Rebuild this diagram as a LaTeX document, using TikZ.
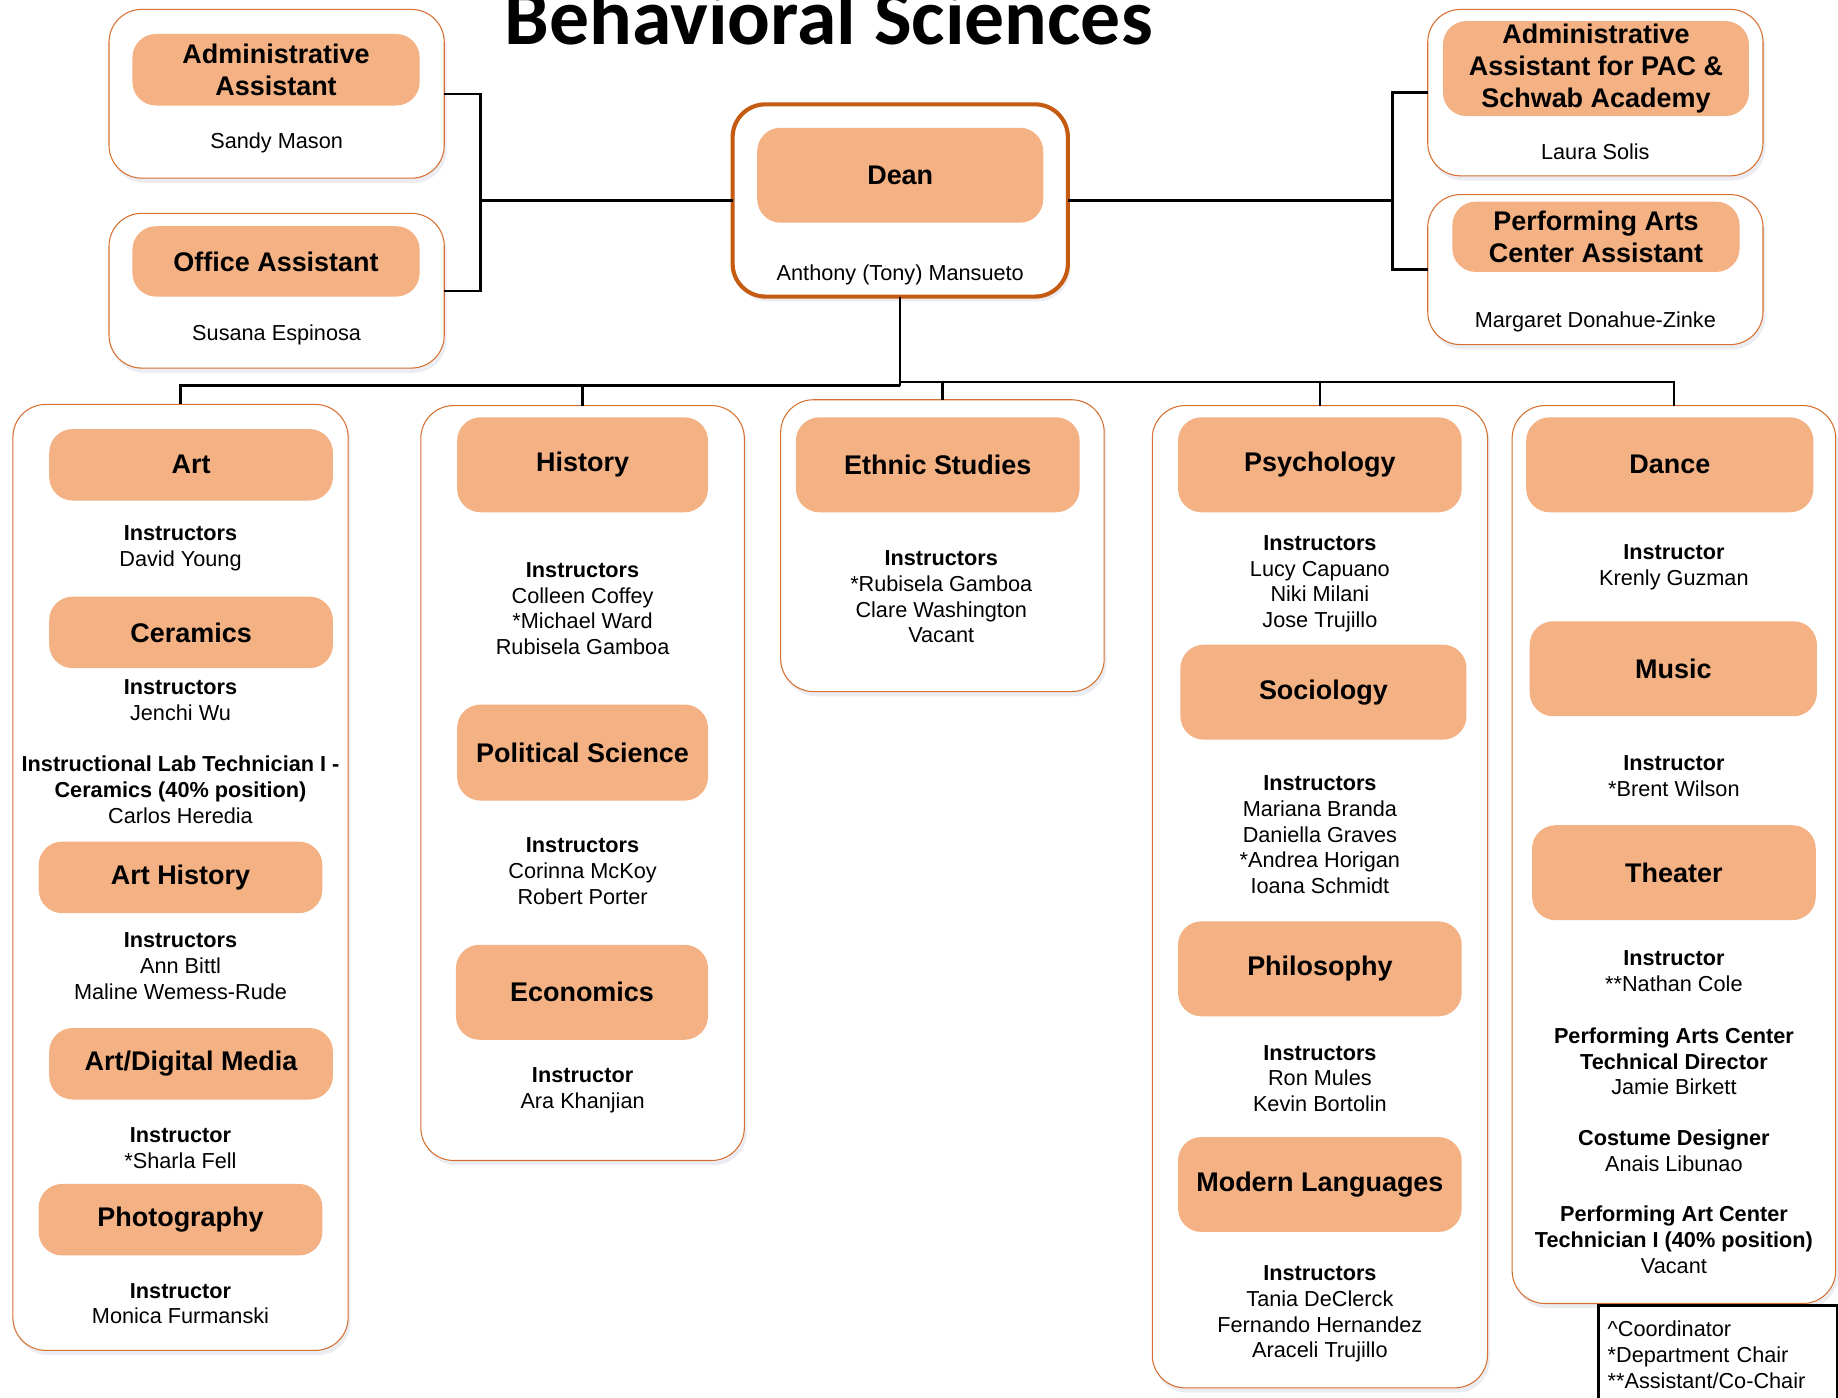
\documentclass[tikz,border=0pt]{standalone}
\usepackage{fontspec}
\setmainfont{Liberation Sans}
\newfontfamily\titlefont{Carlito}
\usetikzlibrary{shadows}
\definecolor{headfill}{RGB}{244,177,131}
\definecolor{edgeorange}{RGB}{214,112,48}
\definecolor{deanedge}{RGB}{197,90,17}
\newcommand{\bodyfont}{\fontsize{18.5}{22}\selectfont}
\newcommand{\headfont}{\fontsize{23}{27}\selectfont\bfseries}
\tikzset{
  unit/.style={draw=edgeorange, line width=0.9pt, fill=white, rounded corners=28pt,
    anchor=north west, inner sep=0pt, outer sep=0pt,
    drop shadow={shadow xshift=2pt, shadow yshift=-4pt, opacity=0.12, fill=blue!25!gray}},
  head/.style={fill=headfill, rounded corners=20pt, anchor=north west, inner sep=0pt,
    outer sep=0pt, font=\headfont, align=center},
  staff/.style={anchor=north, align=center, inner sep=0pt, font=\bodyfont, yshift=-4.5pt,
    execute at begin node=\strut},
  link/.style={line width=2pt}
}
\begin{document}
\begin{tikzpicture}[x=1pt,y=-1pt]%
\clip (0,0) rectangle (1568,1192);%
\useasboundingbox (0,0) rectangle (1568,1192);%
%
\node[anchor=base, font=\titlefont\fontsize{68}{80}\selectfont\bfseries] (title) at (707,38) {Behavioral Sciences};%
%
% top row
\node[unit, minimum width=286, minimum height=144] (adm) at (93,8) {};%
\node[unit, minimum width=286, minimum height=132] (off) at (93,182) {};%
\node[unit, draw=deanedge, line width=3.5pt, minimum width=286, minimum height=164] (dean) at (625,89) {};%
\node[unit, minimum width=286, minimum height=142] (pac) at (1218,8) {};%
\node[unit, minimum width=286, minimum height=128] (pacc) at (1218,166) {};%
%
\node[head, minimum width=245, minimum height=61] (adm-h) at (113,29) {Administrative\\Assistant};%
\node[head, minimum width=245, minimum height=60] (off-h) at (113,193) {Office Assistant};%
\node[head, minimum width=244, minimum height=81] (dean-h) at (646,109) {Dean};%
\node[head, minimum width=261, minimum height=81] (pac-h) at (1231,18) {Administrative\\Assistant for PAC \&\\Schwab Academy};%
\node[head, minimum width=245, minimum height=60] (pacc-h) at (1239,172) {Performing Arts\\Center Assistant};%
%
\node[staff] (adm-n) at (236,107) {Sandy Mason};%
\node[staff] (off-n) at (236,270) {Susana Espinosa};%
\node[staff] (dean-n) at (768,219) {Anthony (Tony) Mansueto};%
\node[staff] (pac-n) at (1361,116) {Laura Solis};%
\node[staff] (pacc-n) at (1361,259) {Margaret Donahue-Zinke};%
%
% departments
\def\artx{154}%
\def\histx{497}%
\def\ethx{803}%
\def\psyx{1126}%
\def\dancex{1428}%
\node[unit, minimum width=286, minimum height=807] (art) at (11,345) {};%
\node[unit, minimum width=276, minimum height=644] (hist) at (359,346) {};%
\node[unit, minimum width=276, minimum height=249] (eth) at (666,341) {};%
\node[unit, minimum width=286, minimum height=838] (psy) at (983,346) {};%
\node[unit, minimum width=276, minimum height=766] (dance) at (1290,346) {};%
%
% connectors
\coordinate (lbus) at (410,171);%
\coordinate (rbus) at (1188,171);%
\coordinate (lbr) at (768,329);%
\coordinate (rbr) at (768,326);%
\draw[link] (adm.east) -| (lbus) |- (off.east);%
\draw[link] (lbus) -- (dean.west);%
\draw[link] (pac.west) -| (rbus) |- (pacc.west);%
\draw[link] (rbus) -- (dean.east);%
\draw[link] (dean.south) -- (lbr);%
\draw[link] (lbr) -| (art.north);%
\draw[link] (lbr) -| (hist.north);%
\draw[link] (rbr) -| (eth.north);%
\draw[link] (rbr) -| (psy.north);%
\draw[link] (rbr) -| (dance.north);%
%
% Art
\node[head, minimum width=242, minimum height=61] (art-h) at (42,366) {Art};%
\node[head, minimum width=242, minimum height=61] (cer-h) at (42,509) {Ceramics};%
\node[head, minimum width=242, minimum height=61] (arth-h) at (33,718) {Art History};%
\node[head, minimum width=242, minimum height=61] (dig-h) at (42,877) {Art/Digital Media};%
\node[head, minimum width=242, minimum height=61] (pho-h) at (33,1010) {Photography};%
\node[staff] (art-s) at (\artx,444) {\textbf{Instructors}\\David Young};%
\node[staff] (cer-s) at (\artx,575) {\textbf{Instructors}\\Jenchi Wu};%
\node[staff] (cer-t) at (\artx,640) {\textbf{Instructional Lab Technician I -}\\\textbf{Ceramics (40\% position)}\\Carlos Heredia};%
\node[staff] (arth-s) at (\artx,791) {\textbf{Instructors}\\Ann Bittl\\Maline Wemess-Rude};%
\node[staff] (dig-s) at (\artx,957) {\textbf{Instructor}\\{}*Sharla Fell};%
\node[staff] (pho-s) at (\artx,1090) {\textbf{Instructor}\\Monica Furmanski};%
%
% History
\node[head, minimum width=214, minimum height=81] (hist-h) at (390,356) {History};%
\node[head, minimum width=214, minimum height=82] (pol-h) at (390,601) {Political Science};%
\node[head, minimum width=215, minimum height=81] (eco-h) at (389,806) {Economics};%
\node[staff] (hist-s) at (\histx,475) {\textbf{Instructors}\\Colleen Coffey\\{}*Michael Ward\\Rubisela Gamboa};%
\node[staff] (pol-s) at (\histx,710) {\textbf{Instructors}\\Corinna McKoy\\Robert Porter};%
\node[staff] (eco-s) at (\histx,906) {\textbf{Instructor}\\Ara Khanjian};%
%
% Ethnic Studies
\node[head, minimum width=242, minimum height=81] (eth-h) at (679,356) {Ethnic Studies};%
\node[staff] (eth-s) at (\ethx,465) {\textbf{Instructors}\\{}*Rubisela Gamboa\\Clare Washington\\Vacant};%
%
% Psychology
\node[head, minimum width=242, minimum height=81] (psy-h) at (1005,356) {Psychology};%
\node[head, minimum width=244, minimum height=81] (soc-h) at (1007,550) {Sociology};%
\node[head, minimum width=242, minimum height=81] (phi-h) at (1005,786) {Philosophy};%
\node[head, minimum width=242, minimum height=81] (lang-h) at (1005,970) {Modern Languages};%
\node[staff] (psy-s) at (\psyx,452) {\textbf{Instructors}\\Lucy Capuano\\Niki Milani\\Jose Trujillo};%
\node[staff] (soc-s) at (\psyx,657) {\textbf{Instructors}\\Mariana Branda\\Daniella Graves\\{}*Andrea Horigan\\Ioana Schmidt};%
\node[staff] (phi-s) at (\psyx,887) {\textbf{Instructors}\\Ron Mules\\Kevin Bortolin};%
\node[staff] (lang-s) at (\psyx,1075) {\textbf{Instructors}\\Tania DeClerck\\Fernando Hernandez\\Araceli Trujillo};%
%
% Dance
\node[head, minimum width=245, minimum height=81] (dance-h) at (1302,356) {Dance};%
\node[head, minimum width=245, minimum height=81] (mus-h) at (1305,530) {Music};%
\node[head, minimum width=242, minimum height=81] (the-h) at (1307,704) {Theater};%
\node[staff] (dance-s) at (\dancex,460) {\textbf{Instructor}\\Krenly Guzman};%
\node[staff] (mus-s) at (\dancex,640) {\textbf{Instructor}\\{}*Brent Wilson};%
\node[staff] (the-s) at (\dancex,806) {\textbf{Instructor}\\{}**Nathan Cole};%
\node[staff] (the-td) at (\dancex,872) {\textbf{Performing Arts Center}\\\textbf{Technical Director}\\Jamie Birkett};%
\node[staff] (the-cd) at (\dancex,959) {\textbf{Costume Designer}\\Anais Libunao};%
\node[staff] (the-tc) at (\dancex,1024) {\textbf{Performing Art Center}\\\textbf{Technician I (40\% position)}\\Vacant};%
%
% legend
\node[draw=black, line width=3pt, fill=white, anchor=north west, minimum width=204, minimum height=84,
  text width=188, inner xsep=8pt, align=left, font=\bodyfont] (legend) at (1362,1112)
  {\textasciicircum Coordinator\\{}*Department Chair\\{}**Assistant/Co-Chair};%
\end{tikzpicture}
\end{document}
